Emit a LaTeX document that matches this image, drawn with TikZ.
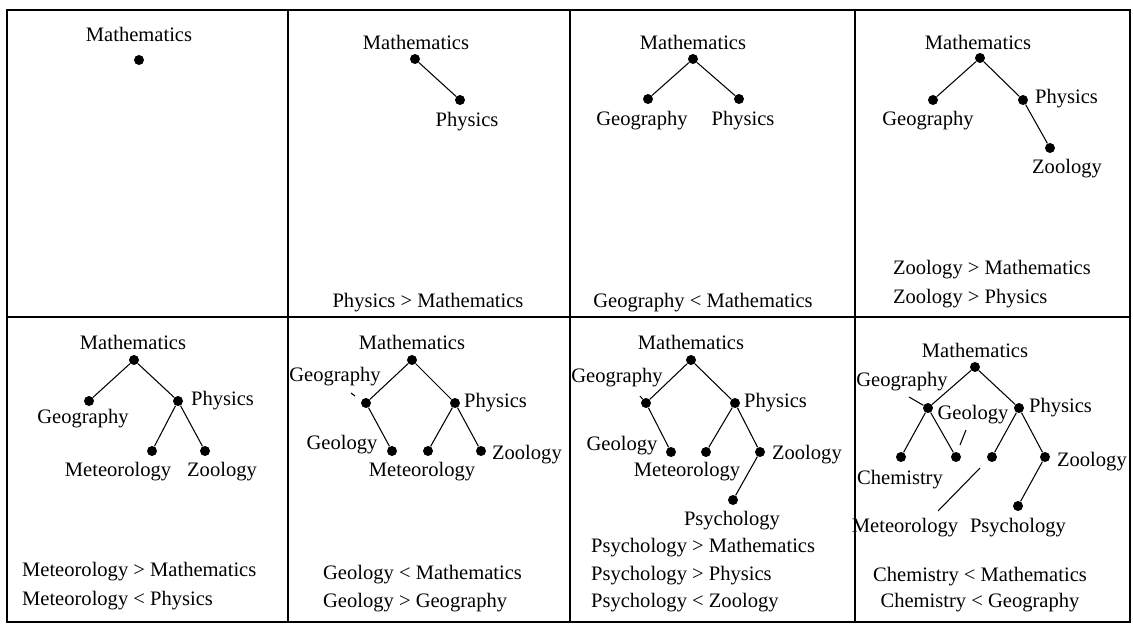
\documentclass[tikz,border=0pt]{standalone}
\usepackage{fontspec}
\setmainfont{Liberation Serif}
\usepackage{tikz}

\tikzset{
  dot/.style={circle, fill=black, inner sep=0pt, minimum size=0.2cm},
  lbl/.style={inner sep=1pt, font=\fontsize{11.7}{14}\selectfont},
  capline/.style={lbl, anchor=west},
  edge/.style={line width=0.6pt},
  frame/.style={line width=0.6pt}
}

\begin{document}
\begin{tikzpicture}[x=0.02cm, y=-0.02cm]
  \useasboundingbox (0,0) rectangle (1133,628);
  % frame and panel dividers
  \draw[frame] (7,10) rectangle (1130,622);
  \draw[frame] (7,317) -- (1130,317);
  \foreach \xd in {288,570,855}
    \draw[frame] (\xd,10) -- (\xd,622);

  % panel 1
  \node[dot] (m1) at (139,60) {};
  \node[lbl] (lm1) at (139,34) {Mathematics};

  % panel 2
  \node[dot] (m2) at (415,59) {};
  \node[dot] (p2) at (460,100) {};
  \draw[edge] (m2) -- (p2);
  \node[lbl] (lm2) at (416,42) {Mathematics};
  \node[lbl] (lp2) at (467,122) {Physics};
  \node[lbl] (c2) at (428,303) {Physics > Mathematics};

  % panel 3
  \node[dot] (m3) at (693,59) {};
  \node[dot] (g3) at (648,99) {};
  \node[dot] (p3) at (739,99) {};
  \draw[edge] (g3) -- (m3) -- (p3);
  \node[lbl] (lm3) at (693,42) {Mathematics};
  \node[lbl] (lg3) at (642,121) {Geography};
  \node[lbl] (lp3) at (743,121) {Physics};
  \node[lbl] (c3) at (703,303) {Geography < Mathematics};

  % panel 4
  \node[dot] (m4) at (980,58) {};
  \node[dot] (g4) at (933,100) {};
  \node[dot] (p4) at (1023,100) {};
  \node[dot] (z4) at (1050,148) {};
  \draw[edge] (g4) -- (m4) -- (p4) -- (z4);
  \node[lbl] (lm4) at (978,42) {Mathematics};
  \node[lbl] (lg4) at (928,121) {Geography};
  \node[lbl, anchor=west] (lp4) at (1033,99) {Physics};
  \node[lbl] (lz4) at (1067,169) {Zoology};
  \node[capline] (c4a) at (891,270) {Zoology > Mathematics};
  \node[capline] (c4b) at (891,299) {Zoology > Physics};

  % panel 5
  \node[dot] (m5) at (134,360) {};
  \node[dot] (g5) at (89,401) {};
  \node[dot] (p5) at (178,401) {};
  \node[dot] (e5) at (152,451) {};
  \node[dot] (z5) at (205,451) {};
  \draw[edge] (g5) -- (m5) -- (p5) -- (e5);
  \draw[edge] (p5) -- (z5);
  \node[lbl] (lm5) at (133,342) {Mathematics};
  \node[lbl] (lg5) at (83,419) {Geography};
  \node[lbl, anchor=west] (lp5) at (189,401) {Physics};
  \node[lbl] (le5) at (118,472) {Meteorology};
  \node[lbl] (lz5) at (222,472) {Zoology};
  \node[capline] (c5a) at (20,572) {Meteorology > Mathematics};
  \node[capline] (c5b) at (20,601) {Meteorology < Physics};

  % panel 6
  \node[dot] (m6) at (412,360) {};
  \node[dot] (g6) at (366,403) {};
  \node[dot] (p6) at (455,403) {};
  \node[dot] (o6) at (392,451) {};
  \node[dot] (e6) at (428,451) {};
  \node[dot] (z6) at (481,451) {};
  \draw[edge] (o6) -- (g6) -- (m6) -- (p6) -- (e6);
  \draw[edge] (p6) -- (z6);
  \node[lbl] (lm6) at (412,342) {Mathematics};
  \node[lbl] (lg6) at (335,377) {Geography};
  \node[lbl, anchor=west] (lp6) at (462,403) {Physics};
  \node[lbl] (lo6) at (342,445) {Geology};
  \node[lbl] (le6) at (422,472) {Meteorology};
  \node[lbl, anchor=west] (lz6) at (490,455) {Zoology};
  \node[capline] (c6a) at (321,575) {Geology < Mathematics};
  \node[capline] (c6b) at (321,603) {Geology > Geography};
  \coordinate (tg6a) at (351,393);
  \coordinate (tg6b) at (355,396);
  \draw[edge] (tg6a) -- (tg6b);

  % panel 7
  \node[dot] (m7) at (691,360) {};
  \node[dot] (g7) at (646,403) {};
  \node[dot] (p7) at (735,403) {};
  \node[dot] (o7) at (671,452) {};
  \node[dot] (e7) at (706,452) {};
  \node[dot] (z7) at (760,452) {};
  \node[dot] (y7) at (733,500) {};
  \draw[edge] (o7) -- (g7) -- (m7) -- (p7) -- (e7);
  \draw[edge] (p7) -- (z7) -- (y7);
  \node[lbl] (lm7) at (691,342) {Mathematics};
  \node[lbl] (lg7) at (617,378) {Geography};
  \node[lbl, anchor=west] (lp7) at (742,403) {Physics};
  \node[lbl] (lo7) at (622,446) {Geology};
  \node[lbl] (le7) at (687,472) {Meteorology};
  \node[lbl, anchor=west] (lz7) at (770,455) {Zoology};
  \node[lbl] (ly7) at (732,521) {Psychology};
  \node[capline] (c7a) at (589,548) {Psychology > Mathematics};
  \node[capline] (c7b) at (589,576) {Psychology > Physics};
  \node[capline] (c7c) at (589,603) {Psychology < Zoology};
  \coordinate (tg7) at (640,396);
  \draw[edge] (tg7) -- (g7);

  % panel 8
  \node[dot] (m8) at (975,367) {};
  \node[dot] (g8) at (928,408) {};
  \node[dot] (p8) at (1019,408) {};
  \node[dot] (h8) at (901,457) {};
  \node[dot] (o8) at (956,457) {};
  \node[dot] (e8) at (992,457) {};
  \node[dot] (z8) at (1045,457) {};
  \node[dot] (y8) at (1018,506) {};
  \draw[edge] (h8) -- (g8) -- (o8);
  \draw[edge] (g8) -- (m8) -- (p8) -- (e8);
  \draw[edge] (p8) -- (z8) -- (y8);
  \node[lbl] (lm8) at (975,350) {Mathematics};
  \node[lbl] (lg8) at (902,382) {Geography};
  \node[lbl] (lo8) at (973,415) {Geology};
  \node[lbl, anchor=west] (lp8) at (1027,408) {Physics};
  \node[lbl] (lh8) at (900,480) {Chemistry};
  \node[lbl, anchor=west] (lz8) at (1055,462) {Zoology};
  \node[lbl] (le8) at (905,528) {Meteorology};
  \node[lbl] (ly8) at (1018,528) {Psychology};
  % leader lines
  \coordinate (tg8) at (909,397);
  \coordinate (to8a) at (966,430);
  \coordinate (to8b) at (960,445);
  \coordinate (te8a) at (938,511);
  \coordinate (te8b) at (980,468);
  \draw[edge] (tg8) -- (g8);
  \draw[edge] (to8a) -- (to8b);
  \draw[edge] (te8a) -- (te8b);
  \node[lbl] (c8a) at (980,577) {Chemistry < Mathematics};
  \node[lbl] (c8b) at (980,603) {Chemistry < Geography};
\end{tikzpicture}
\end{document}
